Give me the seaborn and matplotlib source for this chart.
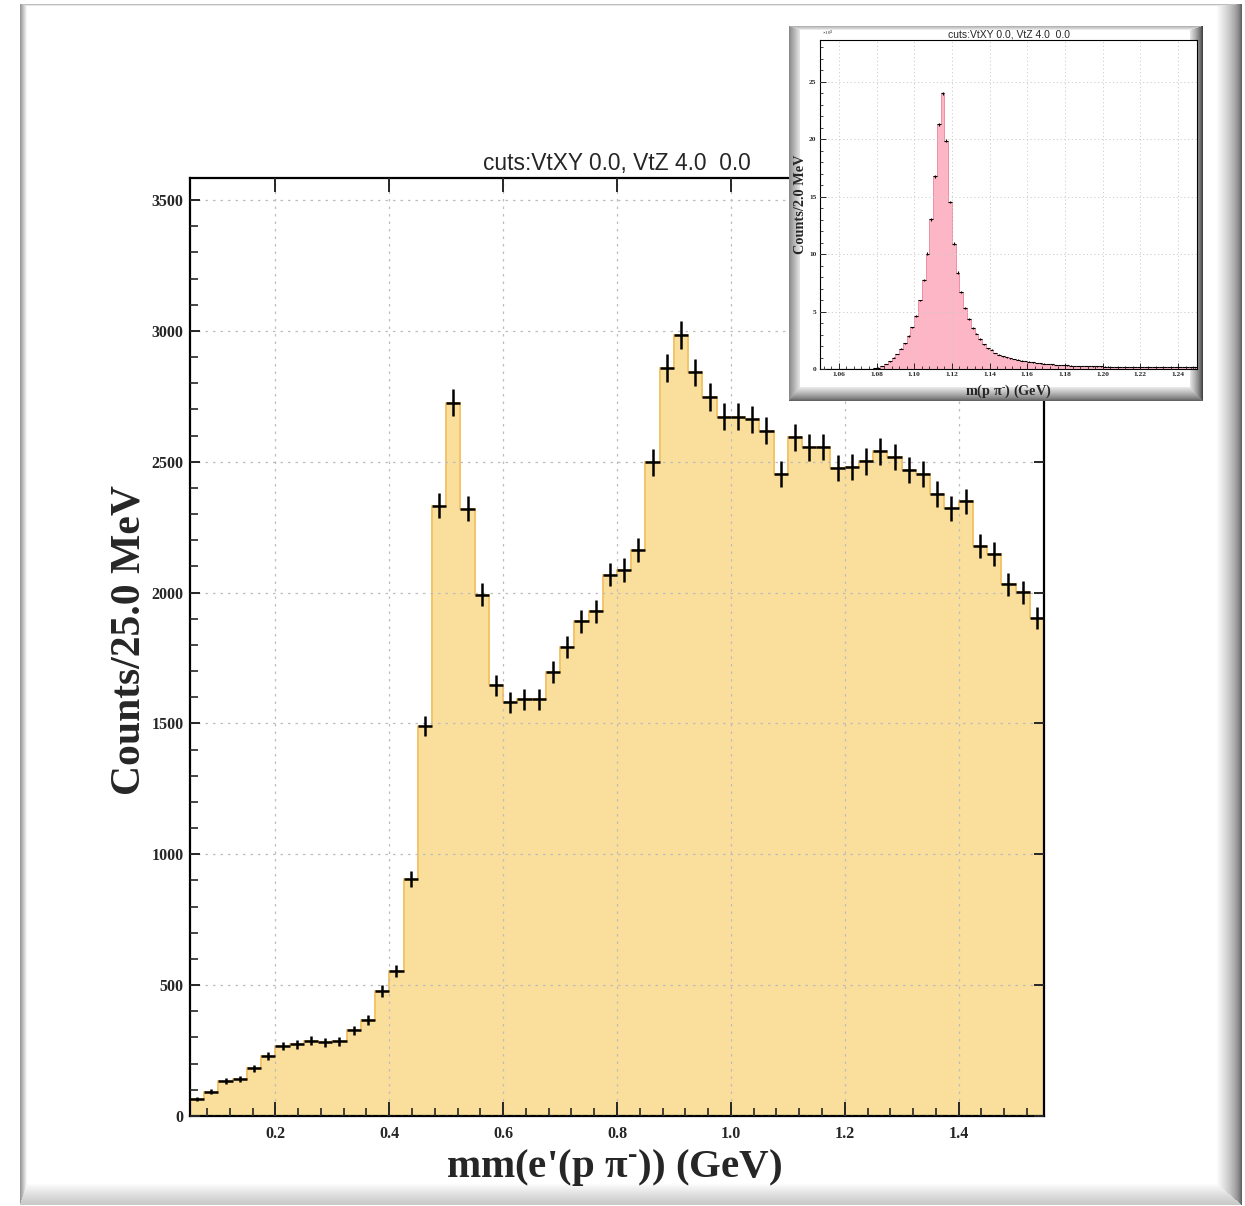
import numpy as np
import pandas as pd
import matplotlib
matplotlib.use("Agg")
import matplotlib.pyplot as plt
from matplotlib.ticker import MultipleLocator, FixedLocator
import seaborn as sns

# ---------------- data ----------------
title_text = "cuts:VtXY 0.0, VtZ 4.0  0.0"

main_xmin = 0.05
main_binw = 0.025
main_counts = [64, 93, 134, 140, 182, 230, 267, 274, 288, 281,
               286, 327, 366, 478, 555, 907, 1490, 2332, 2726, 2320,
               1992, 1645, 1581, 1592, 1592, 1696, 1791, 1890, 1929, 2069,
               2087, 2163, 2497, 2858, 2984, 2841, 2748, 2672, 2672, 2663,
               2618, 2453, 2593, 2555, 2557, 2476, 2481, 2501, 2539, 2519,
               2468, 2453, 2377, 2322, 2348, 2177, 2148, 2031, 2001, 1903]
main_xticks = [0.2, 0.4, 0.6, 0.8, 1.0, 1.2, 1.4]
main_xticklabels = ["0.2", "0.4", "0.6", "0.8", "1.0", "1.2", "1.4"]
main_yticks = [0, 500, 1000, 1500, 2000, 2500, 3000, 3500]
main_yticklabels = ["0", "500", "1000", "1500", "2000", "2500", "3000", "3500"]

inset_xmin = 1.05
inset_binw = 0.002
inset_counts_k = [0.0, 0.0, 0.0, 0.0, 0.0, 0.0, 0.0, 0.0, 0.0, 0.0,
                  0.0, 0.01, 0.01, 0.02, 0.06, 0.12, 0.26, 0.43, 0.67, 0.98,
                  1.30, 1.77, 2.23, 2.87, 3.62, 4.61, 5.97, 7.79, 10.05, 13.04,
                  16.8, 21.3, 24.0, 19.87, 14.54, 10.92, 8.40, 6.69, 5.30, 4.37,
                  3.56, 3.07, 2.61, 2.14, 1.80, 1.68, 1.39, 1.25, 1.10, 1.01,
                  0.93, 0.86, 0.80, 0.74, 0.68, 0.63, 0.58, 0.54, 0.50, 0.46,
                  0.43, 0.40, 0.37, 0.35, 0.33, 0.31, 0.30, 0.28, 0.27, 0.27,
                  0.25, 0.24, 0.23, 0.23, 0.22, 0.21, 0.21, 0.20, 0.20, 0.19,
                  0.19, 0.19, 0.18, 0.18, 0.18, 0.17, 0.17, 0.17, 0.16, 0.17,
                  0.16, 0.16, 0.16, 0.15, 0.16, 0.15, 0.15, 0.15, 0.14, 0.14]
inset_xticks = [1.06, 1.08, 1.10, 1.12, 1.14, 1.16, 1.18, 1.20, 1.22, 1.24]
inset_xticklabels = ["1.06", "1.08", "1.10", "1.12", "1.14", "1.16", "1.18", "1.20", "1.22", "1.24"]
inset_yticks = [0, 5, 10, 15, 20, 25]
inset_yticklabels = ["0", "5", "10", "15", "20", "25"]

# ---------------- style ----------------
sns.set_theme(style="ticks")
plt.rcParams['font.family'] = ['Liberation Serif', 'DejaVu Serif']
plt.rcParams['mathtext.fontset'] = 'custom'
plt.rcParams['mathtext.rm'] = 'Liberation Serif:bold'
plt.rcParams['mathtext.it'] = 'Liberation Serif:bold'
plt.rcParams['mathtext.bf'] = 'Liberation Serif:bold'
plt.rcParams['mathtext.default'] = 'rm'

W, H = 1245, 1206
fig = plt.figure(figsize=(W / 100, H / 100), dpi=100)
fig.patch.set_facecolor("white")


def fr(x0, y0, x1, y1):
    return [x0 / W, 1 - y1 / H, (x1 - x0) / W, (y1 - y0) / H]


def bevel_img(h, w, widths, outer, inner, gamma):
    yy, xx = np.mgrid[0:h, 0:w].astype(float)
    d = np.stack([(xx + 0.5) / widths[0], (yy + 0.5) / widths[1],
                  (w - xx - 0.5) / widths[2], (h - yy - 0.5) / widths[3]])
    side = d.argmin(axis=0)
    dm = d.min(axis=0)
    img = np.full((h, w), 255.0)
    for s in range(4):
        m = (side == s) & (dm < 1)
        img[m] = outer[s] + (inner[s] - outer[s]) * dm[m] ** gamma[s]
    return img


# background frame of the whole picture
bg = np.full((H, W), 255.0)
fx0, fy0, fx1, fy1 = 20, 4, 1242, 1205
bg[fy0:fy1, fx0:fx1] = bevel_img(fy1 - fy0, fx1 - fx0, (7, 2, 26, 22),
                                 (145, 170, 70, 200), (252, 250, 255, 255),
                                 (1.0, 1.0, 0.5, 1.2))
ax_bg = fig.add_axes([0, 0, 1, 1])
ax_bg.set_zorder(0)
ax_bg.imshow(bg, cmap="gray", vmin=0, vmax=255, extent=[0, W, H, 0],
             interpolation="nearest", aspect="auto")
ax_bg.set_xlim(0, W)
ax_bg.set_ylim(H, 0)
ax_bg.axis("off")

# ---------------- main histogram ----------------
main_edges = [main_xmin + main_binw * i for i in range(len(main_counts) + 1)]
main_centers = [main_edges[i] + main_binw / 2 for i in range(len(main_counts))]
df_main = pd.DataFrame({"mass": main_centers, "counts": main_counts})

ax = fig.add_axes(fr(190, 178, 1044, 1116))
ax.set_zorder(2)
sns.histplot(data=df_main, x="mass", weights="counts", bins=main_edges,
             element="step", fill=True, facecolor="#FADE9C",
             edgecolor="#F3C56A", linewidth=1.4, alpha=1, ax=ax)
ax.errorbar(main_centers, main_counts, yerr=np.sqrt(main_counts),
            xerr=main_binw / 2, fmt="none", ecolor="black",
            elinewidth=1.8, capsize=0, zorder=4)
ax.set_xlim(0.05, 1.55)
ax.set_ylim(0, 3584)
ax.set_axisbelow(False)
ax.grid(True, which="major", color="#BDBDBD", linestyle=(0, (2, 4)), linewidth=0.9)
ax.xaxis.set_major_locator(FixedLocator(main_xticks))
ax.set_xticklabels(main_xticklabels)
ax.yaxis.set_major_locator(FixedLocator(main_yticks))
ax.set_yticklabels(main_yticklabels)
ax.xaxis.set_minor_locator(MultipleLocator(0.04))
ax.yaxis.set_minor_locator(MultipleLocator(100))
ax.tick_params(axis="x", which="major", direction="in", length=10, width=1.4,
               top=True, bottom=True, pad=7, labelsize=11.5)
ax.tick_params(axis="x", which="minor", direction="in", length=5.5, width=1.2,
               top=False, bottom=True)
ax.tick_params(axis="y", which="major", direction="in", length=7, width=1.4,
               left=True, right=True, pad=4.5, labelsize=11.5)
ax.tick_params(axis="y", which="minor", direction="in", length=5.5, width=1.2,
               left=True, right=False)
for lab in ax.get_xticklabels() + ax.get_yticklabels():
    lab.set_fontweight("bold")
for sp in ax.spines.values():
    sp.set_linewidth(1.6)
    sp.set_color("black")
ax.set_title(title_text, fontsize=16.4, fontfamily=["Liberation Sans", "DejaVu Sans"],
             pad=6)
ax.set_ylabel("Counts/25.0 MeV", fontsize=30, fontweight="bold")
ax.set_xlabel(r"mm(e'(p $\pi^{\text{-}}$)) (GeV)", fontsize=29.5, fontweight="bold")
ax.yaxis.set_label_coords(-0.049, 0.507)
ax.xaxis.set_label_coords(0.497, -0.033)

# ---------------- inset frame ----------------
ix0, iy0, ix1, iy1 = 789, 26, 1203, 401
ax_fr = fig.add_axes(fr(ix0, iy0, ix1, iy1))
ax_fr.set_zorder(3)
frame = bevel_img(iy1 - iy0, ix1 - ix0, (11, 4, 13, 14),
                  (135, 170, 50, 90), (230, 240, 230, 235),
                  (1.0, 1.0, 0.7, 0.8))
ax_fr.imshow(frame, cmap="gray", vmin=0, vmax=255, interpolation="nearest",
             aspect="auto")
ax_fr.axis("off")

# ---------------- inset histogram ----------------
inset_edges = [inset_xmin + inset_binw * i for i in range(len(inset_counts_k) + 1)]
inset_centers = [inset_edges[i] + inset_binw / 2 for i in range(len(inset_counts_k))]
df_in = pd.DataFrame({"mass": inset_centers, "counts": inset_counts_k})
inset_err = np.sqrt(np.array(inset_counts_k) * 1000.0) / 1000.0

ax_in = fig.add_axes(fr(820, 40, 1197, 369))
ax_in.set_zorder(4)
sns.histplot(data=df_in, x="mass", weights="counts", bins=inset_edges,
             element="step", fill=True, facecolor="#FCB6C6",
             edgecolor="#EE8FA5", linewidth=0.7, alpha=1, ax=ax_in)
ax_in.errorbar(inset_centers, inset_counts_k, yerr=inset_err,
               xerr=inset_binw / 2, fmt="none", ecolor="black",
               elinewidth=0.8, capsize=0, zorder=4)
ax_in.set_xlim(1.05, 1.25)
ax_in.set_ylim(0, 28.65)
ax_in.set_axisbelow(False)
ax_in.grid(True, which="major", color="#C8C8C8", linestyle=(0, (1.5, 3)), linewidth=0.6)
ax_in.xaxis.set_major_locator(FixedLocator(inset_xticks))
ax_in.set_xticklabels(inset_xticklabels)
ax_in.yaxis.set_major_locator(FixedLocator(inset_yticks))
ax_in.set_yticklabels(inset_yticklabels)
ax_in.xaxis.set_minor_locator(MultipleLocator(0.004))
ax_in.yaxis.set_minor_locator(MultipleLocator(1))
ax_in.tick_params(which="major", direction="in", length=4, width=0.7,
                  labelsize=5.3, pad=2.5)
ax_in.tick_params(which="minor", direction="in", length=2, width=0.6)
for lab in ax_in.get_xticklabels() + ax_in.get_yticklabels():
    lab.set_fontweight("bold")
for sp in ax_in.spines.values():
    sp.set_linewidth(0.8)
    sp.set_color("black")
ax_in.set_title(title_text, fontsize=7.5, fontfamily=["Liberation Sans", "DejaVu Sans"],
                pad=1.5)
ax_in.set_ylabel("Counts/2.0 MeV", fontsize=10.3, fontweight="bold")
ax_in.set_xlabel(r"m(p $\pi^{\text{-}}$) (GeV)", fontsize=10.3, fontweight="bold")
ax_in.yaxis.set_label_coords(-0.034, 0.5)
ax_in.xaxis.set_label_coords(0.5, -0.04)
ax_in.text(0.005, 1.005, r"$\times$10$^{3}$", transform=ax_in.transAxes,
           fontsize=3.5, ha="left", va="bottom")

fig.savefig("out.png", dpi=100, facecolor="white")
